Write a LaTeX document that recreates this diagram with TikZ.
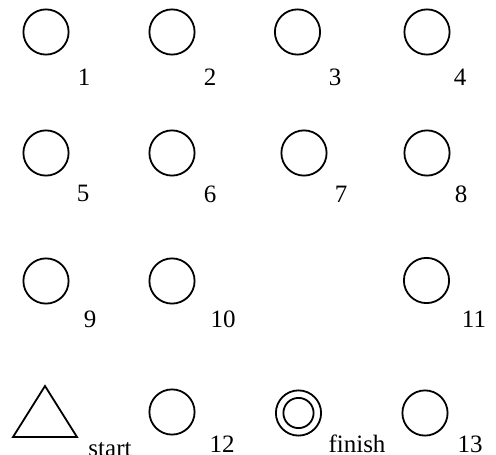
\documentclass[tikz,border=0pt]{standalone}
\usepackage{fontspec}
\setmainfont{Liberation Serif}
\tikzset{
  spot/.style={draw,circle,line width=1.8pt,minimum size=45.2pt,inner sep=0pt},
  num/.style={anchor=base,inner sep=0pt,font=\fontsize{25}{30}\selectfont},
}
\begin{document}
\begin{tikzpicture}[x=1pt,y=-1pt]
  \useasboundingbox (0,0) rectangle (496,455);
  % plain spots with their numbers
  \foreach \n/\x/\y/\lx/\ly in {1/46/32/84/85,2/172/32/210/85,3/297.5/32/335/85,4/427/32/460/85,
      5/46/153/83/201,6/172/153/210/202,7/304/153/341/202,8/427/153/461/202,
      9/46/281/90/327,10/172/281/223/327,11/426.5/280.5/474/327,
      12/172/412/222/452,13/425/413/470/452}
    {\node[spot] (s\n) at (\x,\y) {};
     \node[num] (l\n) at (\lx,\ly) {\n};}
  % start and finish
  \coordinate (ta) at (13,437);
  \coordinate (tb) at (77,437);
  \coordinate (tc) at (45,386);
  \draw[line width=1.8pt,line join=miter] (ta) -- (tb) -- (tc) -- cycle;
  \node[num] (lstart) at (110,456) {start};
  \node[spot] (fin) at (298.5,413) {};
  \node[spot,minimum size=30.2pt] (finin) at (fin) {};
  \node[num] (lfin) at (357,452) {finish};
\end{tikzpicture}
\end{document}
